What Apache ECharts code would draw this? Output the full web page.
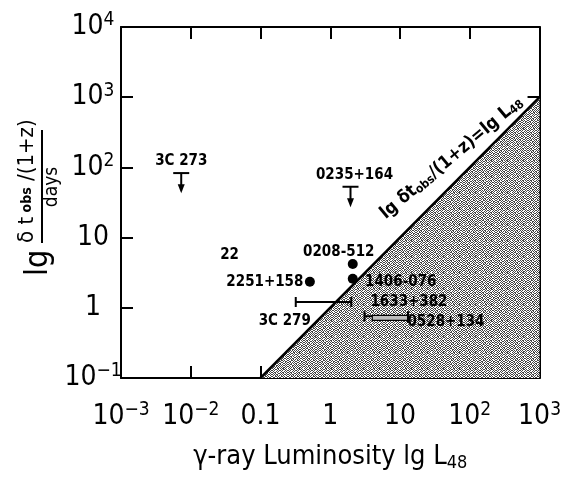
<!DOCTYPE html>
<html><head><meta charset="utf-8">
<script src="https://cdn.jsdelivr.net/npm/echarts@6/dist/echarts.min.js"></script>
<style>html,body{margin:0;padding:0;background:#fff}#c{width:564px;height:487px}</style>
</head><body><div id="c"></div>
<script>
// ---------------- data ----------------
const xTickValues = [0.001, 0.01, 0.1, 1, 10, 100, 1000];
const yTickValues = [0.1, 1, 10, 100, 1000, 10000];
const dotNames = ['0208-512', '1406-076', '2251+158'];
const dotL = [2.1, 2.1, 0.51];
const dotT = [4.2, 2.6, 2.35];
const limitNames = ['3C 273', '0235+164'];
const limitL = [0.0073, 1.95];
const limitT = [83, 53];
const limitTip = [43, 27];
const barNames = ['3C 279', '1633+382'];
const barLmin = [0.32, 3.1];
const barLmax = [2.0, 13];
const barT = [1.21, 0.76];
const bandNames = ['0528+134'];
const bandLmin = [4.0];
const bandLmax = [13];
const bandT = [0.72];
const boundaryL = [0.1, 1000];
const boundaryT = [0.1, 1000];
const noteText = ['22'];
const noteL = [0.036];
const noteT = [5.6];
const lineLabelL = [55];
const lineLabelT = [137];

// ---------------- style ----------------
const NARROW = '"Liberation Sans Narrow","DejaVu Sans Condensed","Liberation Sans",sans-serif';
const COND = '"DejaVu Sans Condensed","Liberation Sans Narrow",sans-serif';
const lblStyle = {fontFamily: COND, fontWeight: 'bold', fontSize: 15, fill: '#000'};
const limitOffsets = [[0, -12], [4, -12]];
const barOffsets = [[-11, 19, 'min'], [1, -14, 'max']];
const bandOffsets = [[38, 4]];
const dotOffsets = [[-14, -12], [48, 3], [-45, 0]];

// stipple pattern for the shaded region
const pat = document.createElement('canvas');
const bits = [
  '1010011010110100',
  '0101101001011010',
  '1010010110100101',
  '0100101001001010',
  '1011010010110101',
  '0101001101010010',
  '1010110010101101',
  '0101010101010010',
  '1001101001101001',
  '0110010110010110',
  '1010101001100101',
  '0101010110011010',
  '1011001010100101',
  '0100110101011010',
  '1010101010100101',
  '0101010101011010'];
pat.width = 16; pat.height = 16;
const pctx = pat.getContext('2d');
pctx.fillStyle = '#fff'; pctx.fillRect(0, 0, 16, 16);
pctx.fillStyle = '#444';
for (let r = 0; r < 16; r++) for (let c = 0; c < 16; c++) if (bits[r][c] === '1') pctx.fillRect(c, r, 1, 1);

function expOf(v) { return Math.round(Math.log10(v)); }
function xLabel(v) {
  const e = expOf(v);
  if (e === -1) return '{b|0.1}';
  if (e === 0) return '{b|1}';
  if (e === 1) return '{b|10}';
  return '{b|10}{s|' + (e < 0 ? '\u2212' + (-e) : e) + '}';
}
function yLabel(v) {
  const e = expOf(v);
  if (e === 0) return '{b|1}';
  if (e === 1) return '{b|10}';
  return '{b|10}{s|' + (e < 0 ? '\u2212' + (-e) : e) + '}';
}
const richLab = {
  b: {fontFamily: NARROW, fontSize: 28, color: '#000', lineHeight: 32},
  s: {fontFamily: NARROW, fontSize: 19, color: '#000', verticalAlign: 'top', lineHeight: 32}
};

const axisCommonX = {
  type: 'log', logBase: 10, min: xTickValues[0], max: xTickValues[xTickValues.length - 1],
  splitNumber: 6, splitLine: {show: false},
  axisLine: {show: true, lineStyle: {color: '#000', width: 2}},
  axisTick: {show: true, inside: true, length: 12, lineStyle: {color: '#000', width: 2}},
  minorTick: {show: false}
};
const axisCommonY = {
  type: 'log', logBase: 10, min: yTickValues[0], max: yTickValues[yTickValues.length - 1],
  splitNumber: 5, splitLine: {show: false},
  axisLine: {show: true, lineStyle: {color: '#000', width: 2}},
  axisTick: {show: true, inside: true, length: 12, lineStyle: {color: '#000', width: 2}},
  minorTick: {show: false}
};

const chart = echarts.init(document.getElementById('c'));
const option = {
  animation: false,
  backgroundColor: '#fff',
  grid: {left: 121, right: 20, top: 27, bottom: 109, containLabel: false},
  xAxis: [
    Object.assign({}, axisCommonX, {
      position: 'bottom',
      axisLabel: {show: true, margin: 23, formatter: xLabel, rich: richLab},
      name: '{a|\u03b3-ray Luminosity lg L}{sub|48}',
      nameLocation: 'middle', nameGap: 64,
      nameTextStyle: {rich: {
        a: {fontFamily: NARROW, fontSize: 27, color: '#000'},
        sub: {fontFamily: NARROW, fontSize: 18, color: '#000', verticalAlign: 'bottom', padding: [12, 0, 0, 0]}
      }}
    }),
    Object.assign({}, axisCommonX, {position: 'top', axisLabel: {show: false}})
  ],
  yAxis: [
    Object.assign({}, axisCommonY, {
      position: 'left',
      axisLabel: {show: true, margin: 28, align: 'center', formatter: yLabel, rich: richLab}
    }),
    Object.assign({}, axisCommonY, {position: 'right', axisLabel: {show: false}})
  ],
  graphic: [
    {type: 'line', shape: {x1: 42, y1: 130, x2: 42, y2: 243}, style: {stroke: '#000', lineWidth: 2}},
    {type: 'group', x: 0, y: 0, rotation: Math.PI / 2, children: [
      {type: 'text', x: -276, y: 39, style: {text: 'lg', fontFamily: NARROW, fontSize: 32, fill: '#000', align: 'left', verticalAlign: 'middle'}},
      {type: 'text', x: -243, y: 38, style: {
        text: '{a|\u03b4 t}{s| obs}{a| /(1+z)}', align: 'left', verticalAlign: 'bottom',
        rich: {
          a: {fontFamily: NARROW, fontSize: 22, fill: '#000'},
          s: {fontFamily: NARROW, fontSize: 14, fill: '#000', fontWeight: 'bold'}
        }}},
      {type: 'text', x: -187, y: 52, style: {text: 'days', fontFamily: NARROW, fontSize: 19, fill: '#000', align: 'center', verticalAlign: 'middle'}}
    ]}
  ],
  series: [
    {
      type: 'line', name: 'boundary', xAxisIndex: 0, yAxisIndex: 0,
      data: boundaryL.map((l, i) => [l, boundaryT[i]]),
      symbol: 'none', lineStyle: {color: '#000', width: 2.5},
      areaStyle: {origin: 'start', color: {image: pat, repeat: 'repeat'}, opacity: 1},
      z: 1
    },
    {
      type: 'scatter', name: 'detections',
      data: dotL.map((l, i) => [l, dotT[i]]),
      symbol: 'circle', symbolSize: 10, itemStyle: {color: '#000', opacity: 1},
      label: {show: true, position: 'inside',
        formatter: p => dotNames[p.dataIndex],
        color: '#000', fontFamily: COND, fontWeight: 'bold', fontSize: 15},
      labelLayout: p => ({dx: dotOffsets[p.dataIndex][0], dy: dotOffsets[p.dataIndex][1]}),
      z: 5
    },
    {
      type: 'custom', name: 'upper limits',
      data: limitL.map((l, i) => [l, limitT[i], limitTip[i]]),
      renderItem: (params, api) => {
        const i = params.dataIndex;
        const p = api.coord([api.value(0), api.value(1)]);
        const t = api.coord([api.value(0), api.value(2)]);
        return {type: 'group', children: [
          {type: 'line', shape: {x1: p[0] - 8, y1: p[1], x2: p[0] + 8, y2: p[1]}, style: {stroke: '#000', lineWidth: 2}},
          {type: 'line', shape: {x1: p[0], y1: p[1], x2: p[0], y2: t[1] - 6}, style: {stroke: '#000', lineWidth: 2}},
          {type: 'polygon', shape: {points: [[t[0] - 3.5, t[1] - 9], [t[0] + 3.5, t[1] - 9], [t[0], t[1]]]}, style: {fill: '#000'}},
          {type: 'text', x: p[0] + limitOffsets[i][0], y: p[1] + limitOffsets[i][1],
            style: Object.assign({text: limitNames[i], align: 'center', verticalAlign: 'middle'}, lblStyle)}
        ]};
      },
      z: 5
    },
    {
      type: 'custom', name: 'ranges',
      data: barLmin.map((l, i) => [l, barLmax[i], barT[i]]),
      renderItem: (params, api) => {
        const i = params.dataIndex;
        const a = api.coord([api.value(0), api.value(2)]);
        const b = api.coord([api.value(1), api.value(2)]);
        const o = barOffsets[i];
        const anchor = o[2] === 'min' ? a : b;
        return {type: 'group', children: [
          {type: 'line', shape: {x1: a[0], y1: a[1], x2: b[0], y2: b[1]}, style: {stroke: '#000', lineWidth: 2}},
          {type: 'line', shape: {x1: a[0], y1: a[1] - 5, x2: a[0], y2: a[1] + 5}, style: {stroke: '#000', lineWidth: 2}},
          {type: 'line', shape: {x1: b[0], y1: b[1] - 5, x2: b[0], y2: b[1] + 5}, style: {stroke: '#000', lineWidth: 2}},
          {type: 'text', x: anchor[0] + o[0], y: anchor[1] + o[1],
            style: Object.assign({text: barNames[i], align: 'center', verticalAlign: 'middle'}, lblStyle)}
        ]};
      },
      z: 5
    },
    {
      type: 'custom', name: 'band',
      data: bandLmin.map((l, i) => [l, bandLmax[i], bandT[i]]),
      renderItem: (params, api) => {
        const i = params.dataIndex;
        const a = api.coord([api.value(0), api.value(2)]);
        const b = api.coord([api.value(1), api.value(2)]);
        return {type: 'group', children: [
          {type: 'rect', shape: {x: a[0], y: a[1] - 2.5, width: b[0] - a[0], height: 5},
            style: {fill: '#bbb', stroke: '#000', lineWidth: 1.2}},
          {type: 'line', shape: {x1: b[0], y1: b[1] - 5, x2: b[0], y2: b[1] + 5}, style: {stroke: '#000', lineWidth: 2}},
          {type: 'text', x: b[0] + bandOffsets[i][0], y: b[1] + bandOffsets[i][1],
            style: Object.assign({text: bandNames[i], align: 'center', verticalAlign: 'middle'}, lblStyle)}
        ]};
      },
      z: 5
    },
    {
      type: 'scatter', name: 'notes',
      data: noteL.map((l, i) => [l, noteT[i]]),
      symbolSize: 0, itemStyle: {opacity: 1},
      label: {show: true, position: 'inside', formatter: p => noteText[p.dataIndex],
        color: '#000', fontFamily: COND, fontWeight: 'bold', fontSize: 15},
      z: 5
    },
    {
      type: 'scatter', name: 'line label',
      data: lineLabelL.map((l, i) => [l, lineLabelT[i]]),
      symbolSize: 0, itemStyle: {opacity: 1},
      label: {show: true, position: 'inside', rotate: 40,
        formatter: () => '{a|lg \u03b4t}{s|obs}{a|/(1+z)=lg L}{s|48}',
        rich: {
          a: {fontFamily: COND, fontWeight: 'bold', fontSize: 18, color: '#000'},
          s: {fontFamily: COND, fontWeight: 'bold', fontSize: 12, color: '#000', verticalAlign: 'bottom', padding: [7, 0, 0, 0]}
        }},
      z: 5
    }
  ]
};
chart.setOption(option);
</script>
</body></html>
